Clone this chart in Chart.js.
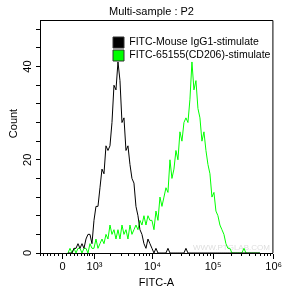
<!DOCTYPE html>
<html>
<head>
<meta charset="utf-8">
<script src="https://cdn.jsdelivr.net/npm/chart.js@4.4.1/dist/chart.umd.min.js"></script>
<style>
  html, body { margin: 0; padding: 0; background: #fff; }
  canvas { display: block; }
</style>
</head>
<body>
<canvas id="chart" width="283" height="294"></canvas>
<script>
const plotTitle = "Multi-sample : P2";
const xTitle = "FITC-A";
const yTitle = "Count";
const watermark = "WWW.PTGLAB.COM";
const seriesNames = ["FITC-Mouse IgG1-stimulate", "FITC-65155(CD206)-stimulate"];

// histogram bins (display channels), first value belongs to channel 14
const firstChannel = 14;
const isotypeCounts = [
  0, 0, 0, 1, 1, 2, 1, 2, 1, 3,
  4, 4, 2, 7, 10, 10, 14, 18, 17, 23,
  22, 23, 28, 36, 35, 41, 37, 28, 29, 22,
  23, 19, 16, 15, 10, 8, 5, 4, 2, 1,
  3, 2, 1, 0, 1, 0, 0, 0, 0, 0,
  1, 0, 0, 0, 0, 0, 0, 0, 0, 1,
  0, 0, 0, 0, 0, 0, 0, 0, 0, 0,
  0, 0, 0, 0, 0, 0, 0, 0, 0, 0,
  0, 0, 0, 0, 0, 0, 0, 0, 0, 0,
  0, 0, 0, 0, 0, 0, 0,
];
const cd206Counts = [
  0, 1, 0, 1, 0, 1, 1, 0, 1, 1,
  0, 2, 1, 1, 3, 1, 2, 3, 2, 4,
  3, 6, 4, 5, 3, 5, 3, 6, 4, 5,
  3, 6, 4, 5, 6, 5, 7, 6, 8, 6,
  8, 7, 7, 5, 9, 7, 12, 10, 12, 14,
  13, 20, 16, 18, 22, 20, 26, 24, 28, 29,
  28, 33, 41, 35, 37, 31, 29, 24, 26, 22,
  19, 17, 12, 13, 9, 8, 6, 5, 4, 2,
  1, 1, 0, 0, 0, 0, 0, 0, 1, 0,
  0, 0, 0, 0, 0, 0, 0,
];

const xMajorValues = [0, 1e3, 1e4, 1e5, 1e6];
const xMajorLabels = ["0", "10³", "10⁴", "10⁵", "10⁶"];
const xMinorValues = [
  -600, -500, -400, -300, -200, -100, 100, 200, 300, 400, 500, 600, 700, 800, 900,
  2e3, 3e3, 4e3, 5e3, 6e3, 7e3, 8e3, 9e3,
  2e4, 3e4, 4e4, 5e4, 6e4, 7e4, 8e4, 9e4,
  2e5, 3e5, 4e5, 5e5, 6e5, 7e5, 8e5, 9e5,
];
const yLabelValues = [0, 20, 40];
const yStep = 4;
const yMax = 50;

// biexponential-like display: fluorescence value -> channel
const channelMax = 116.5;
const toChannel = (v) => (22.5 + 26.3 * Math.asinh(v / 650)) / 2;

const toPoints = (counts) => counts.map((c, k) => ({ x: firstChannel + k, y: c }));

Chart.defaults.font.family = '"Liberation Sans", Arial, sans-serif';
Chart.defaults.color = "#000";

const legendSpot = {
  id: "legendSpot",
  afterLayout(chart) {
    const lg = chart.legend;
    const a = chart.chartArea;
    const pad = lg.options.labels.padding;
    lg.left = a.left + 73 - pad;
    lg.top = a.top + 17 - pad;
    lg.right = lg.left + 170;
    lg.bottom = lg.top + 34;
    lg.width = 170;
    lg.height = 34;
  },
};

const decor = {
  id: "decor",
  beforeDatasetsDraw(chart) {
    const { ctx, chartArea: a } = chart;
    ctx.save();
    ctx.font = '8px "Liberation Sans", Arial, sans-serif';
    ctx.fillStyle = "#dedede";
    ctx.textAlign = "right";
    ctx.textBaseline = "alphabetic";
    ctx.fillText(watermark, a.right - 3, a.bottom - 3);
    ctx.restore();
  },
  afterDraw(chart) {
    const { ctx, chartArea: a } = chart;
    ctx.save();
    ctx.strokeStyle = "#000";
    ctx.lineWidth = 1;
    ctx.beginPath();
    ctx.moveTo(a.left, a.top + 0.5);
    ctx.lineTo(a.right, a.top + 0.5);
    ctx.lineTo(a.right, a.bottom);
    ctx.stroke();

    ctx.fillStyle = "#000";
    ctx.font = '11px "Liberation Sans", Arial, sans-serif';
    ctx.textAlign = "center";
    ctx.textBaseline = "middle";
    ctx.fillText(plotTitle, (a.left + a.right) / 2 - 5, a.top - 8);
    ctx.translate(a.left - 26, (a.top + a.bottom) / 2 - 13);
    ctx.rotate(-Math.PI / 2);
    ctx.fillText(yTitle, 0, 0);
    ctx.restore();
  },
};

new Chart(document.getElementById("chart"), {
  type: "line",
  data: {
    datasets: [
      {
        label: seriesNames[0],
        data: toPoints(isotypeCounts),
        borderColor: "#000000",
        backgroundColor: "#000000",
        borderWidth: 1,
        pointRadius: 0,
        tension: 0,
        xAxisID: "x",
        yAxisID: "y",
      },
      {
        label: seriesNames[1],
        data: toPoints(cd206Counts),
        borderColor: "#00ff00",
        backgroundColor: "#00ff00",
        borderWidth: 1,
        pointRadius: 0,
        tension: 0,
        xAxisID: "x",
        yAxisID: "y",
      },
    ],
  },
  options: {
    responsive: false,
    animation: false,
    devicePixelRatio: 1,
    layout: { padding: { top: 20, right: 10, left: 0, bottom: 0 } },
    scales: {
      x: {
        type: "linear",
        position: "bottom",
        min: 0,
        max: channelMax,
        weight: 0,
        border: { display: false },
        grid: { drawOnChartArea: false, tickLength: 3, color: "#000" },
        ticks: { display: false, autoSkip: false },
        afterBuildTicks: (s) => { s.ticks = xMinorValues.map((v) => ({ value: toChannel(v) })); },
        afterFit: (s) => { s.height = 0; },
      },
      xMajor: {
        type: "linear",
        position: "bottom",
        min: 0,
        max: channelMax,
        weight: 1,
        border: { color: "#000" },
        grid: { drawOnChartArea: false, tickLength: 6, color: "#000" },
        ticks: {
          autoSkip: false,
          maxRotation: 0,
          padding: 1,
          color: "#000",
          font: { size: 11 },
          callback: (v, i) => xMajorLabels[i],
        },
        afterBuildTicks: (s) => { s.ticks = xMajorValues.map((v) => ({ value: toChannel(v) })); },
        title: { display: true, text: xTitle, color: "#000", font: { size: 11 }, padding: { top: 0, bottom: 4 } },
        afterFit: (s) => { s.height = 41; },
      },
      y: {
        min: 0,
        max: yMax,
        border: { color: "#000" },
        grid: { drawOnChartArea: false, tickLength: 4, color: "#000" },
        ticks: {
          stepSize: yStep,
          includeBounds: false,
          autoSkip: false,
          minRotation: 90,
          maxRotation: 90,
          crossAlign: "center",
          padding: 2,
          color: "#000",
          font: { size: 11 },
          callback: (v) => (yLabelValues.includes(v) ? String(v) : ""),
        },
        afterFit: (s) => { s.width = 40; },
      },
    },
    plugins: {
      legend: {
        position: "chartArea",
        align: "start",
        labels: {
          boxWidth: 11,
          boxHeight: 11,
          padding: 2,
          color: "#000",
          font: { size: 10.5 },
          generateLabels(chart) {
            const items = Chart.defaults.plugins.legend.labels.generateLabels(chart);
            items.forEach((it) => { it.strokeStyle = "#333"; it.lineWidth = 1; });
            return items;
          },
        },
      },
      tooltip: { enabled: false },
      title: { display: false },
    },
  },
  plugins: [legendSpot, decor],
});
</script>
</body>
</html>
